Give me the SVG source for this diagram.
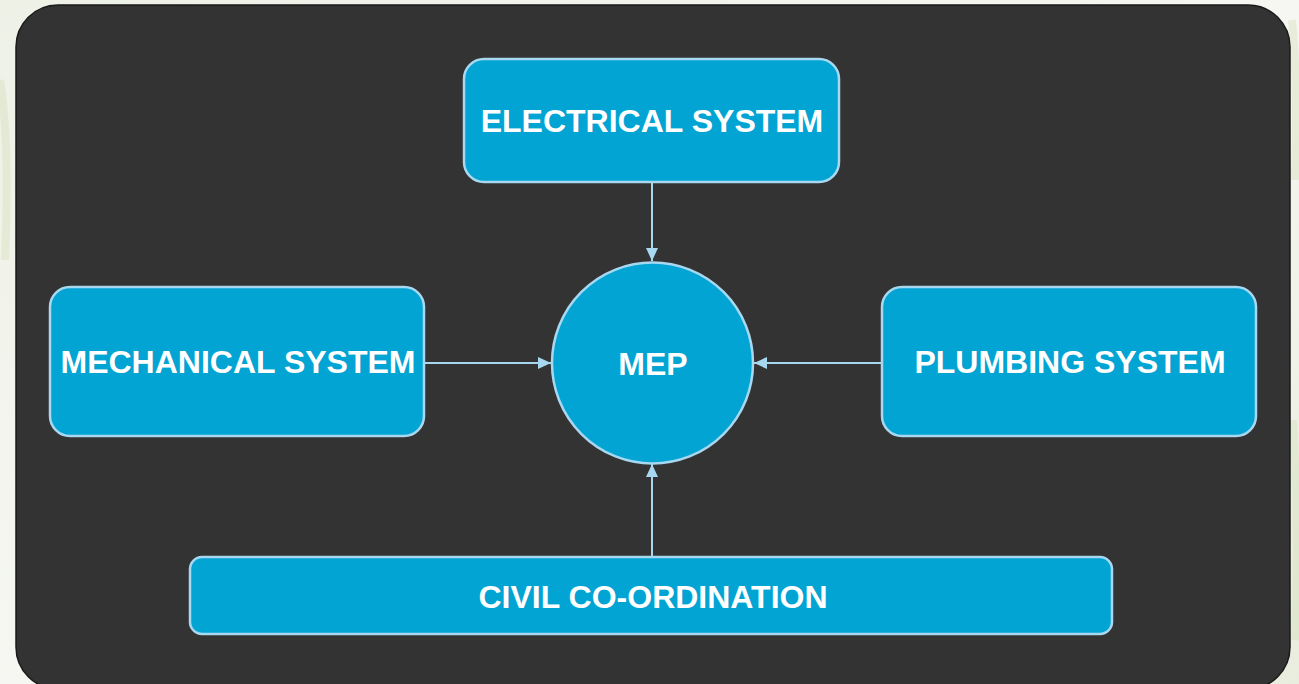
<svg xmlns="http://www.w3.org/2000/svg" width="1299" height="684" viewBox="0 0 1299 684">
<defs>
<style>
.node{fill:#02a4d4;stroke:#a8d8f0;stroke-width:2.5}
.lbl{font-family:"Liberation Sans",Arial,sans-serif;font-weight:bold;font-size:32px;fill:#ffffff;text-anchor:middle}
.conn{stroke:#a8d8f0;stroke-width:2;fill:none}
</style>
<marker id="arr" viewBox="0 0 13 12" refX="13" refY="6" markerWidth="13" markerHeight="12" markerUnits="userSpaceOnUse" orient="auto">
<path d="M0,0 L13,6 L0,12 Z" fill="#a8d8f0"/>
</marker>
<linearGradient id="bg" x1="0" y1="0" x2="1" y2="1">
<stop offset="0" stop-color="#eef1e6"/>
<stop offset="0.5" stop-color="#f6f7f2"/>
<stop offset="1" stop-color="#e8eddd"/>
</linearGradient>
</defs>
<rect width="1299" height="684" fill="url(#bg)"/>
<g opacity="0.35" stroke="#cfdab0" stroke-width="8" fill="none">
<path d="M0,80 Q10,140 5,260"/>
<path d="M1292,20 Q1298,80 1295,180"/>
<path d="M1293,420 Q1299,520 1295,640"/>
</g>
<rect x="16" y="5" width="1274" height="684" rx="42" fill="#333333" stroke="#1a1a1a" stroke-width="1.5"/>
<g id="connectors">
<line class="conn" x1="652" y1="183" x2="652" y2="261" marker-end="url(#arr)"/>
<line class="conn" x1="425" y1="363" x2="551" y2="363" marker-end="url(#arr)"/>
<line class="conn" x1="881" y1="363" x2="754" y2="363" marker-end="url(#arr)"/>
<line class="conn" x1="652" y1="556" x2="652" y2="464" marker-end="url(#arr)"/>
</g>
<g id="electrical">
<rect class="node" x="464" y="59" width="375" height="123" rx="20"/>
<text class="lbl" x="652" y="132">ELECTRICAL SYSTEM</text>
</g>
<g id="mep">
<circle class="node" cx="652.5" cy="363" r="100.5"/>
<text class="lbl" x="653" y="375">MEP</text>
</g>
<g id="mechanical">
<rect class="node" x="50" y="287" width="374" height="149" rx="20"/>
<text class="lbl" x="238" y="373">MECHANICAL SYSTEM</text>
</g>
<g id="plumbing">
<rect class="node" x="882" y="287" width="374" height="149" rx="20"/>
<text class="lbl" x="1070" y="373">PLUMBING SYSTEM</text>
</g>
<g id="civil">
<rect class="node" x="190" y="557" width="922" height="77" rx="12"/>
<text class="lbl" x="653" y="608">CIVIL CO-ORDINATION</text>
</g>
</svg>
